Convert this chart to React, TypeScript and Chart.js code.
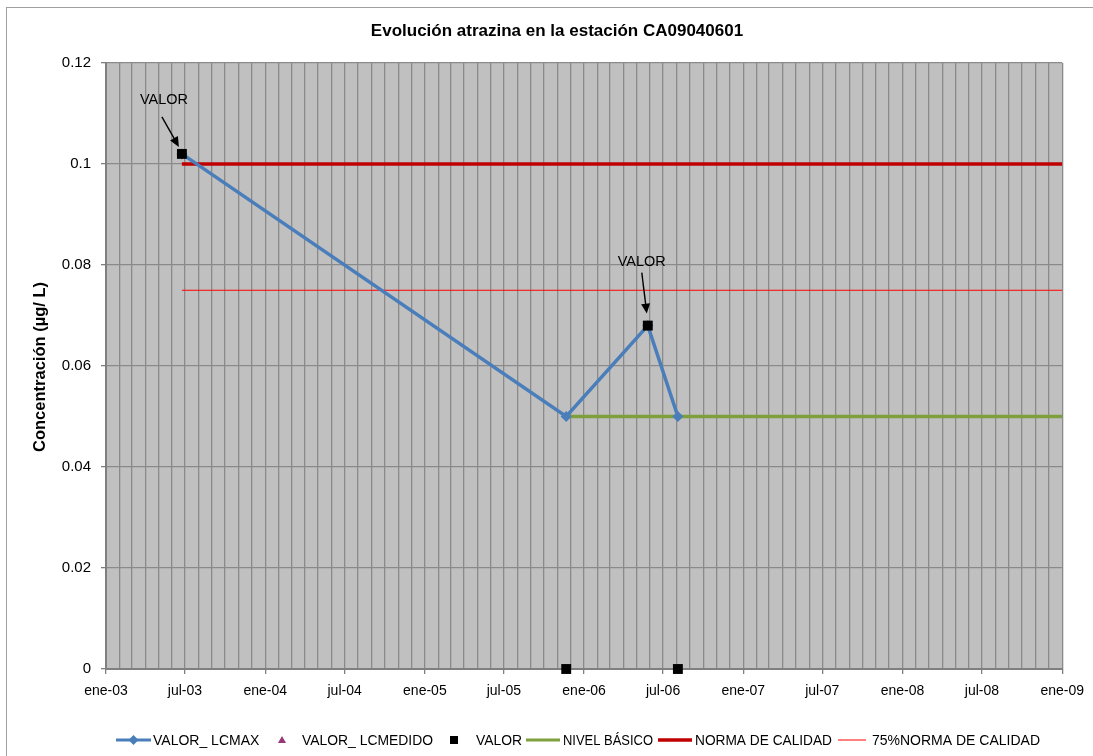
import React, { useEffect, useRef } from "react";
import { Chart, registerables } from "chart.js";

Chart.register(...registerables);

// ---------- data ----------
const TITLE = "Evolución atrazina en la estación CA09040601";
const Y_TITLE = "Concentración (µg/ L)";
const MONTH_ABBR = ["ene", "feb", "mar", "abr", "may", "jun", "jul", "ago", "sep", "oct", "nov", "dic"];
const AXIS_START = "2003-01-01";
const AXIS_END = "2009-01-01";
const Y_MIN = 0;
const Y_MAX = 0.12;
const Y_STEP = 0.02;

const lcmaxDates = ["2003-06-24", "2005-11-21", "2006-05-27", "2006-08-04"];
const lcmaxValues = [0.102, 0.05, 0.068, 0.05];

const lcmedidoDates: string[] = [];
const lcmedidoValues: number[] = [];

const valorDates = ["2003-06-24", "2005-11-21", "2006-05-27", "2006-08-04"];
const valorValues = [0.102, 0, 0.068, 0];
const valorLabelIndexes = [0, 2];
const valorLabelText = "VALOR";

const nivelDates = ["2005-11-21", "2009-01-01"];
const nivelValues = [0.05, 0.05];

const normaDates = ["2003-06-24", "2009-01-01"];
const normaValues = [0.1, 0.1];

const norma75Dates = ["2003-06-24", "2009-01-01"];
const norma75Values = [0.075, 0.075];

const LEGEND_LABELS = [
  "VALOR_ LCMAX",
  "VALOR_ LCMEDIDO",
  "VALOR",
  "NIVEL BÁSICO",
  "NORMA DE CALIDAD",
  "75%NORMA DE CALIDAD",
];

// ---------- helpers ----------
const DAY = 86400000;
const t0 = Date.parse(AXIS_START + "T00:00:00Z");
const dayNum = (s: string) => (Date.parse(s + "T00:00:00Z") - t0) / DAY;
const toPoints = (dates: string[], vals: number[]) =>
  dates.map((d, i) => ({ x: dayNum(d), y: vals[i] }));

const startDate = new Date(t0);
const endDate = new Date(Date.parse(AXIS_END + "T00:00:00Z"));
const totalMonths =
  (endDate.getUTCFullYear() - startDate.getUTCFullYear()) * 12 +
  (endDate.getUTCMonth() - startDate.getUTCMonth());
const monthTicks: { value: number; month: number; year: number }[] = [];
for (let m = 0; m <= totalMonths; m++) {
  const y = startDate.getUTCFullYear() + Math.floor(m / 12);
  const mo = m % 12;
  monthTicks.push({ value: (Date.UTC(y, mo, 1) - t0) / DAY, month: mo, year: y });
}

const FONT = "'Liberation Sans', Arial, sans-serif";
const GRID = "#8a8a8a";
const AXIS = "#7f7f7f";
const BLUE = "#4a7ebb";
const GREEN = "#7f9f3d";
const RED = "#c00000";
const RED75 = "#ff0000";
const PURPLE = "#953875";

const decoPlugin = {
  id: "deco",
  beforeDraw(chart: any) {
    const { ctx, chartArea } = chart;
    ctx.save();
    ctx.fillStyle = "#ffffff";
    ctx.fillRect(0, 0, chart.width, chart.height);
    ctx.strokeStyle = "#a0a0a0";
    ctx.lineWidth = 1;
    ctx.strokeRect(6.5, 7.5, chart.width + 20, chart.height + 20);
    ctx.fillStyle = "#c0c0c0";
    ctx.fillRect(chartArea.left, chartArea.top, chartArea.right - chartArea.left, chartArea.bottom - chartArea.top);
    ctx.restore();
  },
  afterDatasetsDraw(chart: any) {
    const { ctx } = chart;
    const meta = chart.getDatasetMeta(0);
    const offsets = [
      { tx: -18, ty: -54, ax: -20, ay: -37, bx: -3, by: -7 },
      { tx: -6, ty: -64, ax: -6, ay: -53, bx: -1, by: -12 },
    ];
    ctx.save();
    valorLabelIndexes.forEach((idx, k) => {
      const el = meta.data[idx];
      if (!el) return;
      const o = offsets[k % offsets.length];
      const px = el.x;
      const py = el.y;
      ctx.fillStyle = "#000";
      ctx.font = `15px ${FONT}`;
      ctx.textAlign = "center";
      ctx.textBaseline = "middle";
      ctx.fillText(valorLabelText, px + o.tx, py + o.ty, 48);
      const x1 = px + o.ax, y1 = py + o.ay, x2 = px + o.bx, y2 = py + o.by;
      const ang = Math.atan2(y2 - y1, x2 - x1);
      const hl = 10, hw = 4.5;
      ctx.strokeStyle = "#000";
      ctx.lineWidth = 1.4;
      ctx.beginPath();
      ctx.moveTo(x1, y1);
      ctx.lineTo(x2 - Math.cos(ang) * hl * 0.8, y2 - Math.sin(ang) * hl * 0.8);
      ctx.stroke();
      ctx.beginPath();
      ctx.moveTo(x2, y2);
      ctx.lineTo(x2 - Math.cos(ang) * hl - Math.sin(ang) * hw, y2 - Math.sin(ang) * hl + Math.cos(ang) * hw);
      ctx.lineTo(x2 - Math.cos(ang) * hl + Math.sin(ang) * hw, y2 - Math.sin(ang) * hl - Math.cos(ang) * hw);
      ctx.closePath();
      ctx.fill();
    });
    ctx.restore();
  },
  afterDraw(chart: any) {
    const { ctx } = chart;
    ctx.save();
    // title
    ctx.fillStyle = "#000";
    ctx.font = `bold 17px ${FONT}`;
    ctx.textAlign = "center";
    ctx.textBaseline = "middle";
    ctx.fillText(TITLE, 557, 31, 378);
    // y title
    ctx.save();
    ctx.translate(40, 367);
    ctx.rotate(-Math.PI / 2);
    ctx.font = `bold 16.5px ${FONT}`;
    ctx.fillText(Y_TITLE, 0, 0, 172);
    ctx.restore();

    // legend
    const ly = 740;
    const items = [
      { kind: "lineMarker", s: 116, e: 151, color: BLUE, w: 3, tx: 153, tw: 110 },
      { kind: "triangle", c: 282, color: PURPLE, tx: 302, tw: 131 },
      { kind: "square", c: 454, color: "#000", tx: 476, tw: 46 },
      { kind: "line", s: 526, e: 560, color: GREEN, w: 3, tx: 563, tw: 90 },
      { kind: "line", s: 658, e: 692, color: RED, w: 3.5, tx: 695, tw: 137 },
      { kind: "line", s: 838, e: 866, color: RED75, w: 1, tx: 872, tw: 168 },
    ];
    items.forEach((it: any, i) => {
      if (it.kind === "line" || it.kind === "lineMarker") {
        ctx.strokeStyle = it.color;
        ctx.lineWidth = it.w;
        ctx.beginPath();
        ctx.moveTo(it.s, ly);
        ctx.lineTo(it.e, ly);
        ctx.stroke();
        if (it.kind === "lineMarker") {
          const c = (it.s + it.e) / 2;
          ctx.fillStyle = it.color;
          ctx.beginPath();
          ctx.moveTo(c, ly - 5);
          ctx.lineTo(c + 5, ly);
          ctx.lineTo(c, ly + 5);
          ctx.lineTo(c - 5, ly);
          ctx.closePath();
          ctx.fill();
        }
      } else if (it.kind === "triangle") {
        ctx.fillStyle = it.color;
        ctx.beginPath();
        ctx.moveTo(it.c, ly - 4);
        ctx.lineTo(it.c + 4, ly + 3);
        ctx.lineTo(it.c - 4, ly + 3);
        ctx.closePath();
        ctx.fill();
      } else if (it.kind === "square") {
        ctx.fillStyle = it.color;
        ctx.fillRect(it.c - 4, ly - 4, 8, 8);
      }
      ctx.fillStyle = "#000";
      ctx.font = `14px ${FONT}`;
      ctx.textAlign = "left";
      ctx.textBaseline = "middle";
      ctx.fillText(LEGEND_LABELS[i], it.tx, ly + 1, it.tw);
    });
    ctx.restore();
  },
};

export default function App() {
  const ref = useRef<HTMLCanvasElement | null>(null);

  useEffect(() => {
    document.body.style.margin = "0";
    if (!ref.current) return;
    const chart = new Chart(ref.current, {
      type: "line",
      data: {
        datasets: [
          {
            label: LEGEND_LABELS[2],
            data: toPoints(valorDates, valorValues),
            showLine: false,
            pointStyle: "rect",
            pointRadius: 7,
            pointBackgroundColor: "#000",
            pointBorderColor: "#000",
            pointBorderWidth: 0,
            clip: false as any,
          },
          {
            label: LEGEND_LABELS[0],
            data: toPoints(lcmaxDates, lcmaxValues),
            borderColor: BLUE,
            borderWidth: 3.5,
            pointStyle: "rectRot",
            pointRadius: 5.5,
            pointBackgroundColor: BLUE,
            pointBorderColor: BLUE,
            pointBorderWidth: 0,
            tension: 0,
          },
          {
            label: LEGEND_LABELS[1],
            data: toPoints(lcmedidoDates, lcmedidoValues),
            showLine: false,
            pointStyle: "triangle",
            pointRadius: 4,
            pointBackgroundColor: PURPLE,
          },
          {
            label: LEGEND_LABELS[3],
            data: toPoints(nivelDates, nivelValues),
            borderColor: GREEN,
            borderWidth: 3.5,
            pointRadius: 0,
          },
          {
            label: LEGEND_LABELS[4],
            data: toPoints(normaDates, normaValues),
            borderColor: RED,
            borderWidth: 3.5,
            pointRadius: 0,
          },
          {
            label: LEGEND_LABELS[5],
            data: toPoints(norma75Dates, norma75Values),
            borderColor: RED75,
            borderWidth: 1,
            pointRadius: 0,
          },
        ],
      },
      options: {
        responsive: false,
        animation: false,
        devicePixelRatio: 1,
        layout: { padding: { left: 0, right: 30, top: 63, bottom: 47 } },
        plugins: {
          legend: { display: false },
          title: { display: false },
          tooltip: { enabled: false },
        },
        scales: {
          x: {
            type: "linear",
            min: 0,
            max: monthTicks[monthTicks.length - 1].value,
            afterBuildTicks: (scale: any) => {
              scale.ticks = monthTicks.map((t) => ({ value: t.value }));
            },
            afterFit: (scale: any) => {
              scale.height = 40;
            },
            ticks: {
              autoSkip: false,
              maxRotation: 0,
              minRotation: 0,
              padding: 9,
              color: "#000",
              font: { family: FONT, size: 14 },
              callback: (_v: any, i: number) => {
                const t = monthTicks[i];
                if (!t || t.month % 6 !== 0) return "";
                return `${MONTH_ABBR[t.month]}-${String(t.year % 100).padStart(2, "0")}`;
              },
            },
            grid: {
              color: GRID,
              lineWidth: 1.3,
              tickLength: 5,
              tickColor: (c: any) => {
                const t = monthTicks[c.index];
                return t && t.month % 6 === 0 ? AXIS : "rgba(0,0,0,0)";
              },
            },
            border: { color: AXIS, width: 2 },
          },
          y: {
            min: Y_MIN,
            max: Y_MAX,
            afterFit: (scale: any) => {
              scale.width = 106;
            },
            ticks: {
              stepSize: Y_STEP,
              padding: 10,
              color: "#000",
              font: { family: FONT, size: 15 },
              callback: (v: any) => String(+Number(v).toFixed(2)),
            },
            grid: { color: GRID, lineWidth: 1.3, tickLength: 5, tickColor: AXIS },
            border: { color: AXIS, width: 2 },
          },
        },
      } as any,
      plugins: [decoPlugin],
    });
    return () => chart.destroy();
  }, []);

  return (
    <canvas
      ref={ref}
      width={1093}
      height={756}
      style={{ position: "absolute", left: 0, top: 0, width: 1093, height: 756 }}
    />
  );
}
